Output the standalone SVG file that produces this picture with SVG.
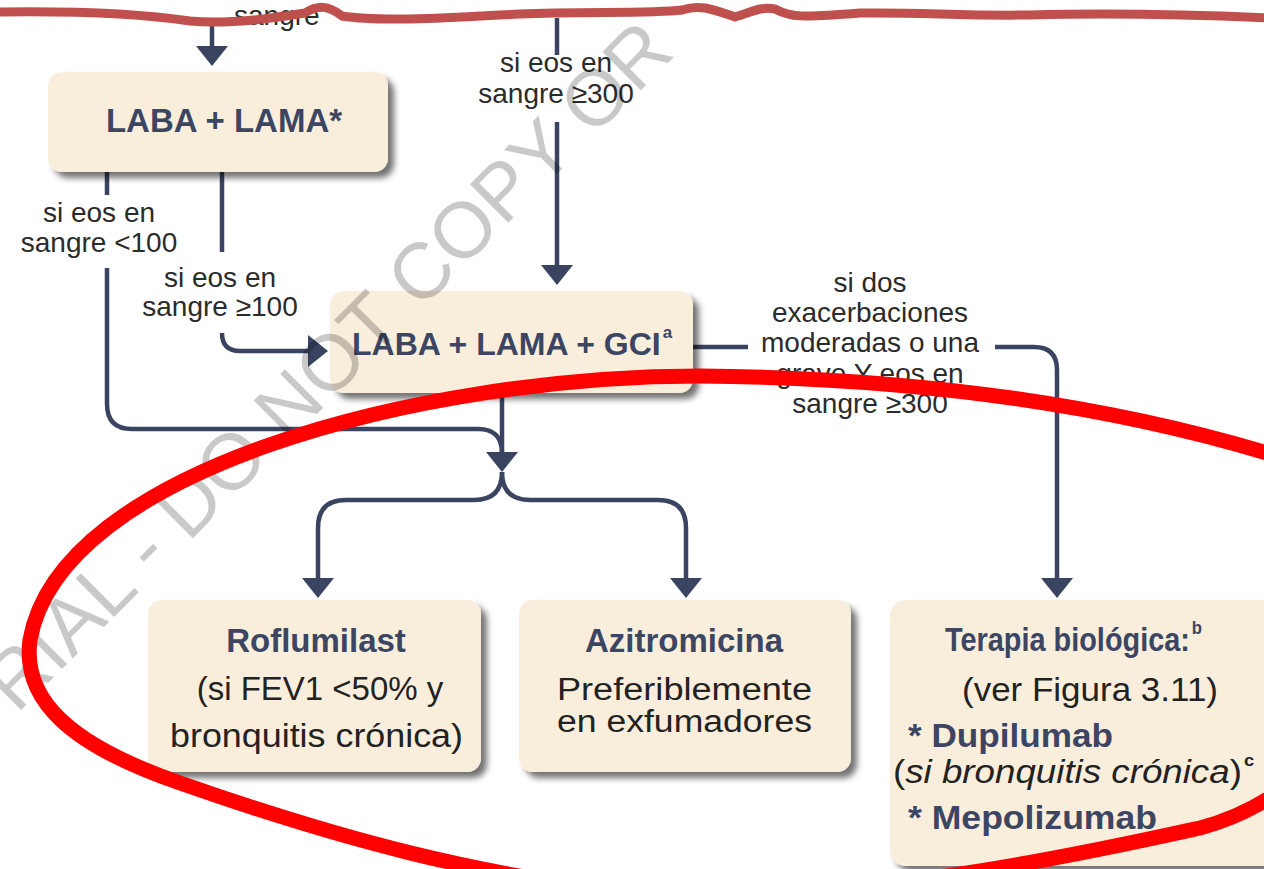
<svg xmlns="http://www.w3.org/2000/svg" width="1264" height="869" viewBox="0 0 1264 869">
<style>
.box{fill:#f9eedc;filter:url(#sh)}
.hd{font-family:"Liberation Sans",Arial,sans-serif;font-weight:bold;font-size:33px;fill:#3c4662}
.bd{font-family:"Liberation Sans",Arial,sans-serif;font-size:33px;fill:#222}
.lb{font-family:"Liberation Sans",Arial,sans-serif;font-size:28px;fill:#2b2b2b;text-anchor:middle}
.ln{fill:none;stroke:#3a4460;stroke-width:4.5}
.ar{marker-end:url(#ah)}
.wm{font-family:"Liberation Sans",Arial,sans-serif;font-size:79px;fill:#000;fill-opacity:0.21}
</style>
<defs>
<filter id="sh" x="-10%" y="-10%" width="130%" height="140%">
<feDropShadow dx="6" dy="6" stdDeviation="3" flood-color="#000" flood-opacity="0.55"/>
</filter>
<marker id="ah" markerUnits="userSpaceOnUse" markerWidth="22" markerHeight="34" refX="16" refY="16" orient="auto">
<path d="M0,0 L20,16 L0,32 Z" fill="#3a4460"/>
</marker>
</defs>
<rect width="1264" height="869" fill="#fff"/>

<g id="connectors">
<path class="ln ar" d="M212 18 V62"/>
<path class="ln" d="M557 18 V55"/>
<path class="ln ar" d="M557 122 V281"/>
<path class="ln" d="M107 172 V195"/>
<path class="ln" d="M107 268 V404 Q107 429 132 429 H478 Q502 429 502 453"/>
<path class="ln" d="M222 172 V252"/>
<path class="ln ar" d="M222 333 Q222 351 240 351 H324"/>
<path class="ln ar" d="M502 392 V468"/>
<path class="ln ar" d="M502 472 Q502 500 474 500 H346 Q318 500 318 528 V594"/>
<path class="ln ar" d="M502 472 Q502 500 530 500 H658 Q686 500 686 528 V594"/>
<path class="ln" d="M693 347 H748"/>
<path class="ln ar" d="M995 347 H1034 Q1057 347 1057 370 V594"/>
</g>

<g id="labels">
<text class="lb" x="234" y="25" style="text-anchor:start">sangre</text>
<text class="lb" x="556" y="72">si eos en</text>
<text class="lb" x="556" y="103">sangre ≥300</text>
<text class="lb" x="99" y="222">si eos en</text>
<text class="lb" x="99" y="252">sangre &lt;100</text>
<text class="lb" x="220" y="287">si eos en</text>
<text class="lb" x="220" y="316">sangre ≥100</text>
<text class="lb" x="870" y="292">si dos</text>
<text class="lb" x="870" y="322">exacerbaciones</text>
<text class="lb" x="870" y="352">moderadas o una</text>
<text class="lb" x="870" y="383">grave Y eos en</text>
<text class="lb" x="870" y="413">sangre ≥300</text>
</g>

<g id="n-laba-lama">
<rect class="box" x="48" y="72" width="340" height="100" rx="14"/>
<text class="hd" x="224" y="132" text-anchor="middle">LABA + LAMA*</text>
</g>

<g id="n-laba-lama-gci">
<rect class="box" x="330" y="291" width="363" height="102" rx="14"/>
<text class="hd" x="352" y="355" style="font-size:32px">LABA + LAMA + GCI<tspan font-size="17" dx="2" dy="-17">a</tspan></text>
</g>

<g id="n-roflumilast">
<rect class="box" x="148" y="600" width="333" height="172" rx="14"/>
<text class="hd" x="316" y="652" text-anchor="middle">Roflumilast</text>
<text class="bd" x="320" y="700" text-anchor="middle">(si FEV1 &lt;50% y</text>
<text class="bd" x="170" y="747" textLength="293" lengthAdjust="spacingAndGlyphs">bronquitis crónica)</text>
</g>

<g id="n-azitromicina">
<rect class="box" x="519" y="600" width="332" height="172" rx="14"/>
<text class="hd" x="684" y="652" text-anchor="middle">Azitromicina</text>
<text class="bd" x="557" y="700" textLength="255" lengthAdjust="spacingAndGlyphs" style="font-size:31px">Preferiblemente</text>
<text class="bd" x="557" y="732" textLength="255" lengthAdjust="spacingAndGlyphs" style="font-size:31px">en exfumadores</text>
</g>

<g id="n-terapia">
<rect class="box" x="890" y="600" width="420" height="266" rx="16"/>
<text class="hd" transform="translate(945,651) scale(0.875,1)">Terapia biológica:<tspan font-size="19" dx="2" dy="-17">b</tspan></text>
<text class="bd" x="962" y="701" textLength="256" lengthAdjust="spacingAndGlyphs">(ver Figura 3.11)</text>
<text class="hd" x="908" y="747" textLength="205" lengthAdjust="spacingAndGlyphs">* Dupilumab</text>
<text class="bd" transform="translate(893,783) scale(1.08,1)" style="font-size:34px">(<tspan font-style="italic">si bronquitis crónica</tspan>)<tspan font-size="17" font-weight="bold" dx="2" dy="-17">c</tspan></text>
<text class="hd" x="908" y="829" textLength="249" lengthAdjust="spacingAndGlyphs">* Mepolizumab</text>
</g>

<text class="wm" x="0" y="0" transform="translate(-137,868) rotate(-45)"><tspan dx="217">RIAL - DO NOT COPY OR</tspan></text>

<path d="M-5 12 C60 11,130 12,190 21 C230 25,280 17,305 13 C318 5,328 5,342 16 C380 22,450 18,520 14 C580 11,650 14,682 10 C700 4,712 9,735 17 C750 13,760 6,775 9 C790 17,800 18,860 13 C920 12,960 16,1030 15 C1100 13,1180 14,1270 18" fill="none" stroke="#c0504d" stroke-width="9" stroke-linecap="round"/>
<path d="M1320 470 C1150 412,950 378,700 376 C420 376,60 470,30 640 C22 700,70 745,180 783 C300 825,500 890,700 895 C900 895,1100 850,1200 828 C1260 812,1300 780,1330 745" fill="none" stroke="#ff0000" stroke-width="15"/>
</svg>
